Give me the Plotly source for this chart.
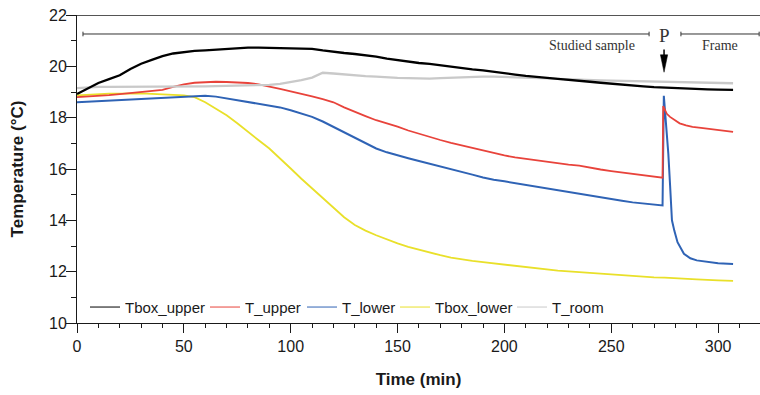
import plotly.graph_objects as go

# ---------------- data ----------------
time_base = [0, 5, 10, 15, 20, 25, 30, 35, 40, 45, 50, 55, 60, 65, 70, 75, 80, 85, 90, 95,
             100, 105, 110, 115, 120, 125, 130, 135, 140, 145, 150, 155, 160, 165, 170, 175,
             180, 185, 190, 195, 200, 205, 210, 215, 220, 225, 230, 235, 240, 245, 250, 255,
             260, 265, 270]

tbox_upper = [18.92, 19.15, 19.35, 19.5, 19.65, 19.9, 20.1, 20.25, 20.4, 20.5, 20.55, 20.6, 20.62,
              20.65, 20.68, 20.7, 20.73, 20.73, 20.72, 20.72, 20.72, 20.7, 20.68, 20.62, 20.56,
              20.52, 20.48, 20.43, 20.38, 20.3, 20.24, 20.18, 20.13, 20.1, 20.04, 19.98, 19.93,
              19.88, 19.84, 19.78, 19.73, 19.68, 19.63, 19.6, 19.55, 19.51, 19.48, 19.45, 19.4,
              19.36, 19.32, 19.28, 19.25, 19.22, 19.19]
tbox_upper_tail_t = [275, 280, 285, 290, 295, 300, 307]
tbox_upper_tail = [19.17, 19.14, 19.12, 19.11, 19.1, 19.09, 19.08]

t_room = [19.15, 19.18, 19.2, 19.2, 19.2, 19.21, 19.21, 19.21, 19.22, 19.22, 19.22, 19.22, 19.22,
          19.23, 19.24, 19.25, 19.26, 19.27, 19.28, 19.32, 19.38, 19.46, 19.56, 19.75, 19.72,
          19.68, 19.65, 19.62, 19.6, 19.57, 19.55, 19.54, 19.53, 19.52, 19.54, 19.56, 19.58,
          19.6, 19.6, 19.6, 19.59, 19.58, 19.57, 19.55, 19.53, 19.51, 19.49, 19.48, 19.46,
          19.45, 19.44, 19.43, 19.42, 19.41, 19.4]
t_room_tail_t = [275, 280, 285, 290, 295, 300, 307]
t_room_tail = [19.39, 19.38, 19.37, 19.36, 19.36, 19.35, 19.34]

t_upper = [18.8, 18.82, 18.85, 18.88, 18.92, 18.96, 19.0, 19.03, 19.08, 19.2, 19.3, 19.36, 19.39,
           19.4, 19.39, 19.38, 19.35, 19.3, 19.22, 19.12, 19.02, 18.93, 18.83, 18.72, 18.6,
           18.4, 18.22, 18.06, 17.9, 17.78, 17.65, 17.5, 17.37, 17.25, 17.13, 17.02, 16.92,
           16.82, 16.72, 16.62, 16.53, 16.45, 16.39, 16.33, 16.27, 16.22, 16.17, 16.13, 16.05,
           15.98, 15.92, 15.86, 15.8, 15.75, 15.7]
t_upper_tail_t = [274, 274.3, 275, 276, 277.5, 280, 282, 285, 288, 292, 295, 300, 307]
t_upper_tail = [15.66, 18.45, 18.3, 18.15, 18.03, 17.88, 17.78, 17.7, 17.64, 17.6, 17.57, 17.5, 17.45]

t_lower = [18.6, 18.62, 18.64, 18.66, 18.68, 18.7, 18.72, 18.73, 18.75, 18.78, 18.8, 18.83, 18.85,
           18.82, 18.75, 18.68, 18.61, 18.55, 18.48, 18.4, 18.29, 18.17, 18.03, 17.85, 17.64,
           17.45, 17.25, 17.03, 16.8, 16.65, 16.52, 16.42, 16.31, 16.21, 16.1, 16.0, 15.9,
           15.78, 15.67, 15.58, 15.52, 15.45, 15.4, 15.33, 15.25, 15.17, 15.1, 15.04, 14.95,
           14.88, 14.82, 14.76, 14.7, 14.66, 14.62]
t_lower_tail_t = [274, 274.6, 275.5, 276.7, 277.5, 278.4, 279.5, 281, 284, 287, 290, 295, 300, 307]
t_lower_tail = [14.58, 18.85, 17.9, 16.6, 15.4, 14.0, 13.6, 13.15, 12.7, 12.52, 12.44, 12.38, 12.33, 12.3]

tbox_lower = [18.87, 18.9, 18.92, 18.94, 18.94, 18.95, 18.95, 18.93, 18.91, 18.9, 18.87, 18.8, 18.6,
              18.35, 18.09, 17.78, 17.44, 17.12, 16.8, 16.42, 16.02, 15.62, 15.24, 14.85, 14.5,
              14.12, 13.82, 13.6, 13.42, 13.25, 13.1, 12.97, 12.85, 12.75, 12.64, 12.55, 12.48,
              12.42, 12.37, 12.32, 12.27, 12.22, 12.17, 12.12, 12.08, 12.04, 12.01, 11.99, 11.95,
              11.92, 11.89, 11.85, 11.82, 11.8, 11.78]
tbox_lower_tail_t = [275, 280, 290, 300, 307]
tbox_lower_tail = [11.77, 11.74, 11.7, 11.66, 11.64]

series_names = ["Tbox_upper", "T_upper", "T_lower", "Tbox_lower", "T_room"]
colors = {"Tbox_upper": "#000000", "T_upper": "#e8433b", "T_lower": "#2f63b5",
          "Tbox_lower": "#e9e02a", "T_room": "#c9c9c9"}
widths = {"Tbox_upper": 2.3, "T_upper": 1.8, "T_lower": 2.0, "Tbox_lower": 1.8, "T_room": 2.3}

x_ticks = [0, 50, 100, 150, 200, 250, 300]
y_ticks = [10, 12, 14, 16, 18, 20, 22]

series = {
    "Tbox_upper": (time_base + tbox_upper_tail_t, tbox_upper + tbox_upper_tail),
    "T_upper": (time_base + t_upper_tail_t, t_upper + t_upper_tail),
    "T_lower": (time_base + t_lower_tail_t, t_lower + t_lower_tail),
    "Tbox_lower": (time_base + tbox_lower_tail_t, tbox_lower + tbox_lower_tail),
    "T_room": (time_base + t_room_tail_t, t_room + t_room_tail),
}

fig = go.Figure()
for name in ["Tbox_lower", "T_lower", "T_upper", "T_room", "Tbox_upper"]:
    xs, ys = series[name]
    fig.add_trace(go.Scatter(x=xs, y=ys, mode="lines", name=name, showlegend=False,
                             line=dict(color=colors[name], width=widths[name])))

ink = "#1a1a1a"
ann_col = "#333333"

plot_left, plot_w = 77, 683
legend_px = [85, 205, 302, 395, 512]
legend_layout = {}
for i, name in enumerate(series_names):
    key = "legend" if i == 0 else f"legend{i + 1}"
    fig.add_trace(go.Scatter(x=[None], y=[None], mode="lines", name=name, legend=key,
                             line=dict(color=colors[name], width=1)))
    legend_layout[key] = dict(orientation="h", x=(legend_px[i] - plot_left) / plot_w, y=0.051,
                              xanchor="left", yanchor="middle", bgcolor="rgba(0,0,0,0)",
                              font=dict(size=15, color=ink), itemwidth=30)

shapes = []
shapes.append(dict(type="line", xref="paper", yref="y", x0=0, x1=1, y0=22, y1=22,
                   line=dict(color="#555555", width=2)))
yb = 21.26
cap = 0.09
for (a, b) in [(2.8, 267.7), (282.6, 319.2)]:
    shapes.append(dict(type="line", xref="x", yref="y", x0=a, x1=b, y0=yb, y1=yb,
                       line=dict(color=ann_col, width=1)))
    for e in (a, b):
        shapes.append(dict(type="line", xref="x", yref="y", x0=e, x1=e, y0=yb - cap, y1=yb + cap,
                           line=dict(color=ann_col, width=1)))
px = 274.7
shapes.append(dict(type="line", xref="x", yref="y", x0=px, x1=px, y0=20.43, y1=20.66,
                   line=dict(color="#000000", width=1.5)))
shapes.append(dict(type="path", xref="x", yref="y",
                   path=f"M{px},19.77 L{px-1.7},20.45 L{px+1.7},20.45 Z",
                   fillcolor="#000000", line=dict(color="#000000", width=0.5)))

annotations = [
    dict(x=240.9, y=20.82, xref="x", yref="y", text="Studied sample", showarrow=False,
         font=dict(family="Liberation Serif", size=14, color=ann_col)),
    dict(x=300.9, y=20.82, xref="x", yref="y", text="Frame", showarrow=False,
         font=dict(family="Liberation Serif", size=14, color=ann_col)),
    dict(x=274.7, y=21.22, xref="x", yref="y", text="P", showarrow=False,
         font=dict(family="Liberation Serif", size=19, color=ann_col)),
]

fig.update_layout(
    width=760, height=395,
    margin=dict(l=77, r=0, t=15, b=72),
    paper_bgcolor="white", plot_bgcolor="white",
    font=dict(family="Liberation Sans, Arial", size=16, color=ink),
    shapes=shapes, annotations=annotations,
    xaxis=dict(range=[0, 319.6], tickvals=x_ticks, ticks="outside", ticklen=9, tickwidth=1,
               tickcolor=ink, showline=True, linecolor=ink, linewidth=1, showgrid=False,
               zeroline=False, automargin=False,
               minor=dict(dtick=10, ticks="outside", ticklen=4, tickwidth=1, tickcolor=ink,
                          showgrid=False),
               title=dict(text="<b>Time (min)</b>", font=dict(size=17), standoff=18)),
    yaxis=dict(range=[10, 22], tickvals=y_ticks, ticks="outside", ticklen=10, tickwidth=1,
               tickcolor=ink, showline=True, linecolor=ink, linewidth=1, showgrid=False,
               zeroline=False, automargin=False, ticklabelstandoff=-4,
               minor=dict(dtick=1, ticks="outside", ticklen=5, tickwidth=1, tickcolor=ink,
                          showgrid=False),
               title=dict(text="<b>Temperature (°C)</b>", font=dict(size=17), standoff=21)),
    **legend_layout,
)

fig.write_html("out.html", config={"displayModeBar": False},
               post_script="document.body.style.margin='0';document.body.style.overflow='hidden';")
